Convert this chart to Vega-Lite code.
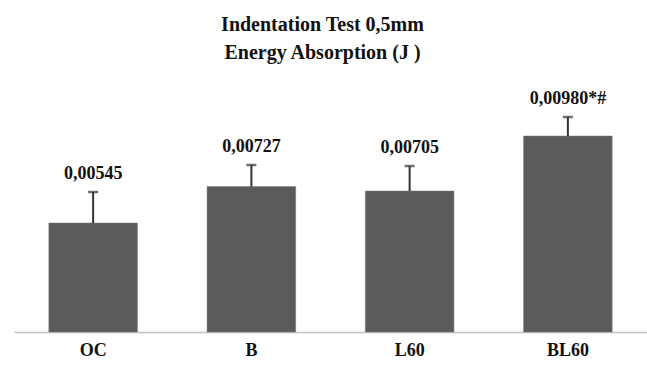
{
  "$schema": "https://vega.github.io/schema/vega-lite/v6.json",
  "width": 633,
  "height": 260,
  "autosize": {"type": "none"},
  "padding": {"left": 14, "top": 72, "right": 0, "bottom": 34},
  "background": "white",
  "config": {"view": {"stroke": null}, "font": "Liberation Serif"},
  "title": {
    "text": ["Indentation Test 0,5mm", "Energy Absorption (J )"],
    "anchor": "middle",
    "dx": -8,
    "fontSize": 20,
    "fontWeight": "bold",
    "font": "Liberation Serif",
    "color": "#111111",
    "lineHeight": 28,
    "offset": 9
  },
  "data": {
    "values": [
      {"group": "OC", "value": 0.00545, "upper": 0.00700, "label": "0,00545"},
      {"group": "B", "value": 0.00727, "upper": 0.00835, "label": "0,00727"},
      {"group": "L60", "value": 0.00705, "upper": 0.00830, "label": "0,00705"},
      {"group": "BL60", "value": 0.00980, "upper": 0.01075, "label": "0,00980*#"}
    ]
  },
  "encoding": {
    "x": {
      "field": "group",
      "type": "nominal",
      "sort": null,
      "scale": {"paddingInner": 0.44, "paddingOuter": 0.22},
      "axis": {
        "title": null,
        "labelAngle": 0,
        "ticks": false,
        "domainColor": "#c0c0c0",
        "domainWidth": 1.5,
        "labelFont": "Liberation Serif",
        "labelFontWeight": "bold",
        "labelFontSize": 18,
        "labelColor": "#111111",
        "labelPadding": 9
      }
    }
  },
  "layer": [
    {
      "mark": {"type": "bar", "color": "#5b5b5b", "stroke": "#7a7a7a", "strokeWidth": 0.5},
      "encoding": {
        "y": {"field": "value", "type": "quantitative", "scale": {"domain": [0, 0.013]}, "axis": null}
      }
    },
    {
      "mark": {"type": "rule", "color": "#333333", "strokeWidth": 2},
      "encoding": {
        "y": {"field": "value", "type": "quantitative"},
        "y2": {"field": "upper"}
      }
    },
    {
      "mark": {"type": "tick", "color": "#333333", "thickness": 2.5, "size": 10, "orient": "horizontal"},
      "encoding": {
        "y": {"field": "upper", "type": "quantitative"}
      }
    },
    {
      "mark": {"type": "text", "font": "Liberation Serif", "fontWeight": "bold", "fontSize": 18, "color": "#111111", "baseline": "middle", "dy": -18},
      "encoding": {
        "y": {"field": "upper", "type": "quantitative"},
        "text": {"field": "label"}
      }
    }
  ]
}
